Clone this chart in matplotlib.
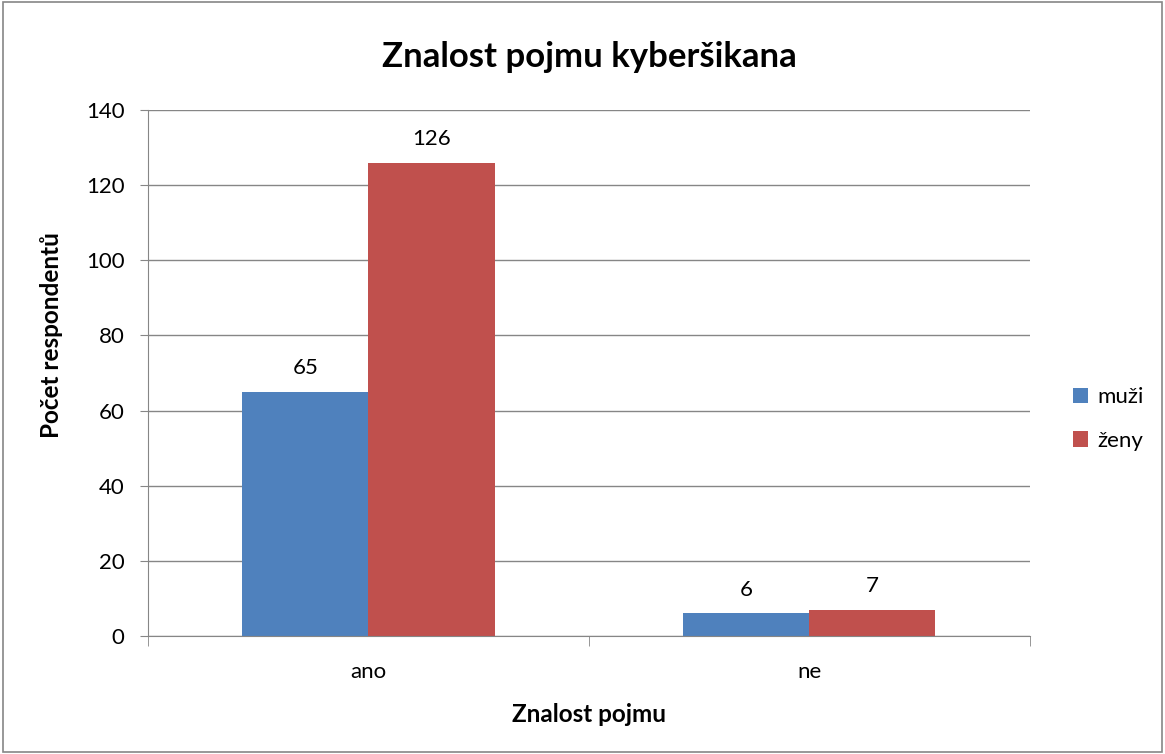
import matplotlib.pyplot as plt
import numpy as np
from matplotlib.patches import Rectangle

categories = ["ano", "ne"]
muzi = [65, 6]
zeny = [126, 7]
series_names = ["muži", "ženy"]
colors = ["#4F81BD", "#C0504D"]

plt.rcParams['font.family'] = ['Lato', 'DejaVu Sans']

fig = plt.figure(figsize=(11.65, 7.54), dpi=100)
ax = fig.add_axes([0.127, 0.1565, 0.757, 0.6976])

x = np.arange(len(categories))
w = 0.286
b1 = ax.bar(x - w / 2, muzi, w, color=colors[0], label=series_names[0])
b2 = ax.bar(x + w / 2, zeny, w, color=colors[1], label=series_names[1])

for bars in (b1, b2):
    for bar in bars:
        ax.annotate(str(int(bar.get_height())),
                    (bar.get_x() + bar.get_width() / 2, bar.get_height()),
                    xytext=(0, 10), textcoords="offset points",
                    ha="center", va="bottom", fontsize=16)

ax.set_xlim(-0.5, len(categories) - 0.5)
ax.set_ylim(0, 140)
ax.set_yticks(range(0, 141, 20))
ax.set_yticklabels([str(v) for v in range(0, 141, 20)], fontsize=16)
ax.set_xticks(x)
ax.set_xticklabels(categories, fontsize=16)
ax.set_xticks(np.arange(-0.5, len(categories)), minor=True)
ax.tick_params(axis="x", which="major", length=0, pad=19)
ax.tick_params(axis="x", which="minor", length=7, color="#868686")
ax.tick_params(axis="y", length=6, color="#868686", pad=11)

ax.grid(axis="y", color="#868686", linewidth=1)
ax.set_axisbelow(True)
for s in ["top", "right"]:
    ax.spines[s].set_visible(False)
ax.spines["left"].set_color("#868686")
ax.spines["bottom"].set_color("#868686")

ax.set_title("Znalost pojmu kyberšikana", fontsize=25, fontweight="bold", pad=31)
ax.set_xlabel("Znalost pojmu", fontsize=17.5, fontweight="bold", labelpad=15)
ax.set_ylabel("Počet respondentů", fontsize=17.5, fontweight="bold", labelpad=16)
ax.yaxis.label.set_y(0.572)

ax.legend(loc="center left", bbox_to_anchor=(1.026, 0.4125), frameon=False,
          fontsize=16, handlelength=0.7, handleheight=0.7, labelspacing=1.05,
          handletextpad=0.4)

fig.patches.append(Rectangle((0.003, 0.003), 0.994, 0.994, transform=fig.transFigure,
                             fill=False, edgecolor="#868686", linewidth=1.2))

fig.savefig("out.png", dpi=100)
